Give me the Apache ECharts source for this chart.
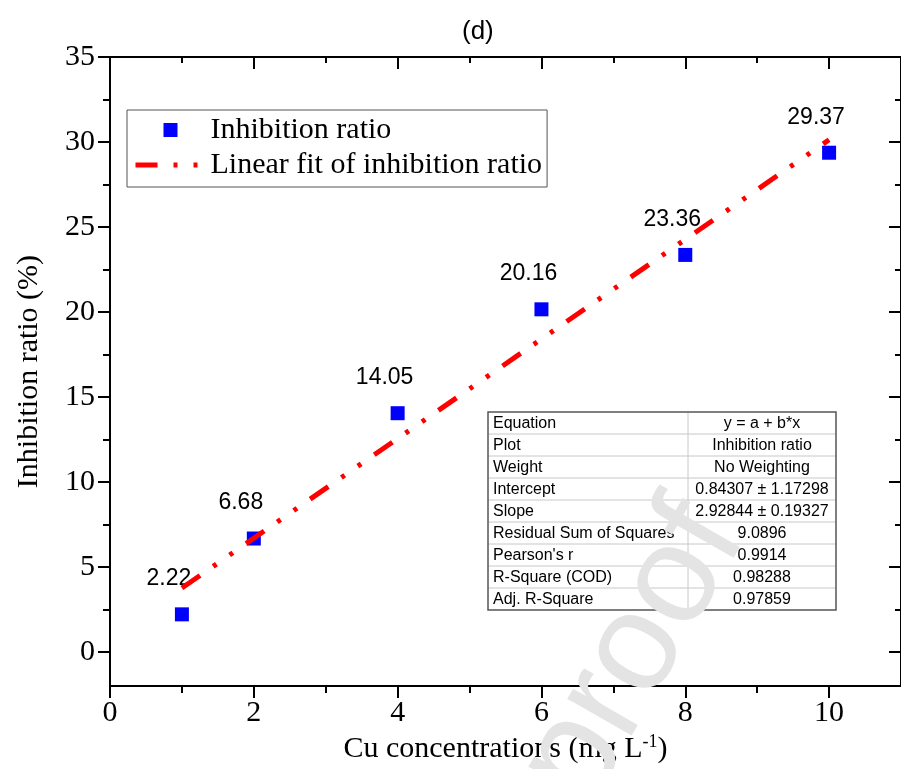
<!DOCTYPE html>
<html>
<head>
<meta charset="utf-8">
<style>
  html, body { margin: 0; padding: 0; background: #fff; }
  #chart { width: 901px; height: 769px; }
</style>
<script src="https://cdn.jsdelivr.net/npm/echarts@6/dist/echarts.min.js"></script>
</head>
<body>
<div id="chart"></div>
<script>
// data
const concentrations = [1, 2, 4, 6, 8, 10]
const inhibition = [2.22, 6.68, 14.05, 20.16, 23.36, 29.37]
const fitX = [1, 10]
const fitY = [3.77, 30.13]

const xMajorTicks = [0, 2, 4, 6, 8, 10]
const xMinorTicks = [1, 3, 5, 7, 9]
const yMajorTicks = [0, 5, 10, 15, 20, 25, 30, 35]
const yMinorTicks = [2.5, 7.5, 12.5, 17.5, 22.5, 27.5, 32.5]

const tableLabels = ['Equation', 'Plot', 'Weight', 'Intercept', 'Slope',
  'Residual Sum of Squares', "Pearson's r", 'R-Square (COD)', 'Adj. R-Square']
const tableValues = ['y = a + b*x', 'Inhibition ratio', 'No Weighting',
  '0.84307 \u00b1 1.17298', '2.92844 \u00b1 0.19327', '9.0896', '0.9914', '0.98288', '0.97859']

const serif = '"Liberation Serif", "Times New Roman", serif'
const sans = '"Liberation Sans", Arial, sans-serif'

const X_MIN = 0, X_MAX = 11
const Y_MIN = -2, Y_MAX = 35

// an axis that only draws ticks (used for frame + minor ticks)
const tickAxis = (position, min, max, values, length, inside, showLine) => ({
  type: 'value',
  position,
  min,
  max,
  axisLine: { show: showLine, onZero: false, lineStyle: { color: '#000', width: 2 } },
  axisTick: { show: true, inside, length, customValues: values, lineStyle: { color: '#000', width: 2 } },
  axisLabel: { show: false },
  splitLine: { show: false }
})

// stats table drawn as graphic
const TABLE_LEFT = 488, TABLE_TOP = 412, ROW_H = 22, COL1_W = 200, COL2_W = 148
const tableChildren = []
tableLabels.forEach((label, i) => {
  const y = i * ROW_H
  if (i > 0) {
    tableChildren.push({
      type: 'line',
      shape: { x1: 0, y1: y, x2: COL1_W + COL2_W, y2: y },
      style: { stroke: '#c8c8c8', lineWidth: 1 }
    })
  }
  tableChildren.push({
    type: 'text', x: 5, y: y + ROW_H / 2 + 1,
    style: { text: label, font: '16px ' + sans, fill: '#000', verticalAlign: 'middle' }
  })
  tableChildren.push({
    type: 'text', x: COL1_W + COL2_W / 2, y: y + ROW_H / 2 + 1,
    style: { text: tableValues[i], font: '16px ' + sans, fill: '#000', align: 'center', verticalAlign: 'middle' }
  })
})
tableChildren.push({
  type: 'line',
  shape: { x1: COL1_W, y1: 0, x2: COL1_W, y2: ROW_H * tableLabels.length },
  style: { stroke: '#c8c8c8', lineWidth: 1 }
})
tableChildren.push({
  type: 'rect',
  shape: { x: 0, y: 0, width: COL1_W + COL2_W, height: ROW_H * tableLabels.length },
  style: { fill: 'none', stroke: '#555', lineWidth: 1.5 }
})

const chart = echarts.init(document.getElementById('chart'))

chart.setOption({
  animation: false,
  backgroundColor: '#fff',
  title: {
    text: '(d)',
    left: 457,
    top: 14,
    textStyle: { fontFamily: sans, fontSize: 26, fontWeight: 'normal', color: '#000' }
  },
  legend: {
    orient: 'vertical',
    left: 127,
    top: 110,
    data: [
      { name: 'Inhibition ratio', icon: 'path://M0 0L10 0L10 10L0 10Z' },
      { name: 'Linear fit of inhibition ratio', itemStyle: { opacity: 0 } }
    ],
    itemWidth: 70,
    itemHeight: 14,
    itemGap: 5,
    padding: [5, 5, 7, 6],
    borderColor: '#555',
    borderWidth: 1,
    selectedMode: false,
    symbolKeepAspect: true,
    lineStyle: { width: 5 },
    textStyle: { fontFamily: serif, fontSize: 30, lineHeight: 30, color: '#000' }
  },
  grid: { left: 110, right: -3, top: 57, bottom: 80, containLabel: false },
  xAxis: [
    {
      type: 'value',
      position: 'bottom',
      min: X_MIN,
      max: X_MAX,
      name: 'Cu concentrations (mg L{sup|-1})',
      nameLocation: 'middle',
      nameGap: 43,
      nameTextStyle: {
        fontFamily: serif, fontSize: 30, color: '#000',
        rich: { sup: { fontFamily: serif, fontSize: 18, color: '#000', verticalAlign: 'top', padding: [0, 0, 14, 0] } }
      },
      axisLine: { onZero: false, lineStyle: { color: '#000', width: 2 } },
      axisTick: { length: 12, customValues: xMajorTicks, lineStyle: { color: '#000', width: 2 } },
      axisLabel: { customValues: xMajorTicks, margin: 12, fontFamily: serif, fontSize: 30, color: '#000' },
      splitLine: { show: false }
    },
    tickAxis('bottom', X_MIN, X_MAX, xMinorTicks, 7, false, false),
    tickAxis('top', X_MIN, X_MAX, xMajorTicks, 12, true, true),
    tickAxis('top', X_MIN, X_MAX, xMinorTicks, 6, true, false)
  ],
  yAxis: [
    {
      type: 'value',
      position: 'left',
      min: Y_MIN,
      max: Y_MAX,
      name: 'Inhibition ratio (%)',
      nameLocation: 'middle',
      nameGap: 66,
      nameTextStyle: { fontFamily: serif, fontSize: 30, color: '#000' },
      axisLine: { onZero: false, lineStyle: { color: '#000', width: 2 } },
      axisTick: { length: 12, customValues: yMajorTicks, lineStyle: { color: '#000', width: 2 } },
      axisLabel: { customValues: yMajorTicks, margin: 15, fontFamily: serif, fontSize: 30, color: '#000' },
      splitLine: { show: false }
    },
    tickAxis('left', Y_MIN, Y_MAX, yMinorTicks, 7, false, false),
    tickAxis('right', Y_MIN, Y_MAX, yMajorTicks, 12, true, true),
    tickAxis('right', Y_MIN, Y_MAX, yMinorTicks, 6, true, false)
  ],
  series: [
    {
      name: 'Inhibition ratio',
      type: 'scatter',
      xAxisIndex: 0,
      yAxisIndex: 0,
      symbol: 'rect',
      symbolSize: 14,
      itemStyle: { color: '#0000ff', opacity: 1 },
      data: concentrations.map((x, i) => [x, inhibition[i]]),
      label: {
        show: true,
        position: 'top',
        distance: 5,
        offset: [-13, -12],
        formatter: p => p.value[1].toFixed(2),
        fontFamily: sans,
        fontSize: 23,
        color: '#000'
      },
      emphasis: { disabled: true },
      z: 2
    },
    {
      name: 'Linear fit of inhibition ratio',
      type: 'line',
      xAxisIndex: 0,
      yAxisIndex: 0,
      symbol: 'none',
      data: fitX.map((x, i) => [x, fitY[i]]),
      lineStyle: { color: '#ff0000', width: 5, type: [22, 16, 4, 16, 4, 16], cap: 'butt' },
      itemStyle: { color: '#ff0000' },
      emphasis: { disabled: true },
      z: 3
    }
  ],
  graphic: [
    { type: 'group', x: TABLE_LEFT, y: TABLE_TOP, children: tableChildren, z: 10 },
    {
      type: 'text',
      x: 634,
      y: 654,
      rotation: 1.05,
      z: 100,
      style: { text: 'proof', font: '140px ' + sans, fill: '#e4e4e4', align: 'center', verticalAlign: 'middle' }
    }
  ]
})
</script>
</body>
</html>
